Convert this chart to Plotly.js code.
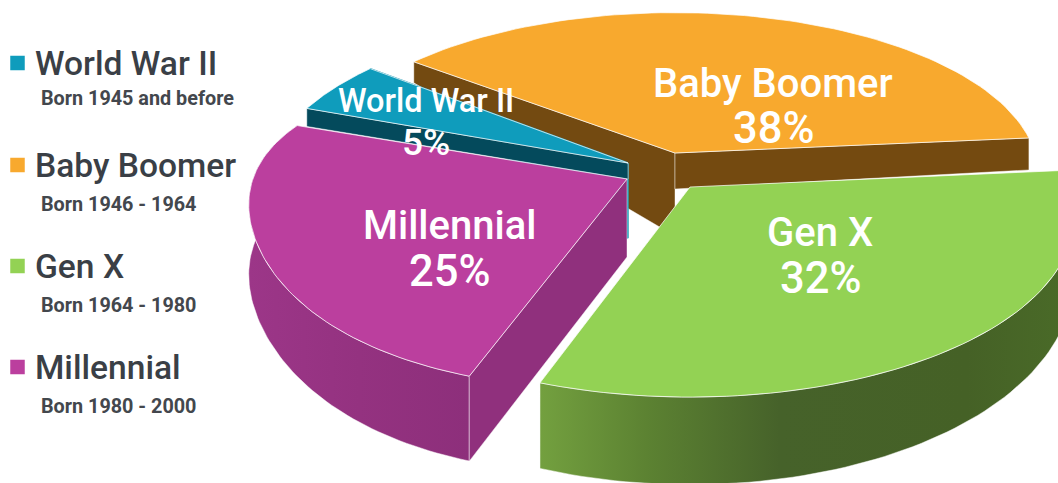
<!DOCTYPE html>
<html><head><meta charset="utf-8">
<script src="https://cdn.plot.ly/plotly-3.0.1.min.js"></script>
<style>html,body{margin:0;padding:0;background:#fff;overflow:hidden}#c{width:1058px;height:483px}</style>
</head><body><div id="c"></div>
<script>
// ---- data ----
const categories = ["World War II", "Baby Boomer", "Gen X", "Millennial"];
const shares = [5, 38, 32, 25];
const birthYears = ["Born 1945 and before", "Born 1946 - 1964", "Born 1964 - 1980", "Born 1980 - 2000"];

// ---- style ----
const topColors = ["#0F9CBC", "#F8A92E", "#93D254", "#BB3F9E"];
const FONT = "Roboto, sans-serif";

// ---- 3D projection of each slice: apex, radius, perspective, tilt, wall heights ----
const startAngle = 289.8;
const geom = [
  {ax:628, ay:163, R:360, pR:55, k:0.472, dent:0},
  {ax:675, ay:153, R:360, pR:48, k:0.45, dent:0},
  {ax:690, ay:187, R:377, pR:70, k:0.47, dent:0, outer:[0.48,-127]},
  {ax:627, ay:179, R:381, pR:90, k:0.45, dent:17, outer:[0.18,1]}
];
const rad = d => d*Math.PI/180;
let cum = startAngle;
const spans = shares.map(v => { const s=[cum, cum+v*3.6]; cum=s[1]; return s; });
geom.forEach((g,i)=>{ g.a=spans[i][0]; g.b=spans[i][1]; });
function radius(g, th){
  const u = Math.sin(Math.PI*(th-g.a)/(g.b-g.a));
  return g.R - g.pR*Math.cos(rad(th)) - g.dent*u*u;
}
function pt(g, th, t){
  const r = radius(g, th);
  return [g.ax + r*Math.sin(rad(th)), g.ay - g.k*r*Math.cos(rad(th)) + (t||0)];
}
function arc(g, a, b, tf){
  const o = [];
  for(let i=0;i<=80;i++){ const th=a+(b-a)*i/80; o.push(pt(g,th,tf?tf(th):0)); }
  return o;
}
function poly(points, color, name, extra){
  const p = points.concat([points[0]]);
  return Object.assign({
    type:"scatter", mode:"lines", x:p.map(q=>q[0]), y:p.map(q=>q[1]),
    fill:"toself", fillcolor:color, line:{color:"rgba(255,255,255,0.7)", width:1, shape:"linear"},
    hoverinfo:"skip", showlegend:false, name:name
  }, extra||{});
}
function sideWall(g, th, tApex, tCorner, color){
  return poly([[g.ax,g.ay],[g.ax,g.ay+tApex],pt(g,th,tCorner),pt(g,th,0)], color, "wall",
    {line:{color:"rgba(255,255,255,0.55)",width:0.8}});
}
function outerWall(g, a, b, grad){
  const tf = th => g.outer[0]*radius(g,th)+g.outer[1];
  const pts = arc(g,a,b).concat(arc(g,b,a,tf));
  return poly(pts, grad[0][1], "outer", {line:{color:"rgba(255,255,255,0.6)",width:0.8},
    fillgradient:{type:"horizontal", colorscale:grad}});
}
function topFace(i){
  const g=geom[i], s=spans[i];
  return poly([[g.ax,g.ay]].concat(arc(g,s[0],s[1])), topColors[i], categories[i]);
}

const [gW,gB,gG,gM] = geom, [sW,sB,sG,sM] = spans;
const traces = [
  // Baby Boomer (rear)
  sideWall(gB, sB[0], 83, 21, "#734A11"),
  sideWall(gB, sB[1], 36, 32, "#744A10"),
  topFace(1),
  // World War II
  Object.assign(sideWall(gW, sW[1], 75, 0, "#0F9CBC"), {line:{color:"#2B9FB8",width:1.5}}),
  sideWall(gW, sW[0], 16, 18, "#044A5C"),
  topFace(0),
  // Gen X
  outerWall(gG, sG[0], sG[1], [[0,"#73A03F"],[0.2,"#5C8232"],[0.45,"#46622A"],[0.8,"#456126"],[1,"#4A6B28"]]),
  topFace(2),
  // Millennial
  outerWall(gM, sM[0], sM[1], [[0,"#9C3688"],[0.5,"#943280"],[1,"#8D2F7B"]]),
  sideWall(gM, sM[0], 78, 85, "#90307D"),
  topFace(3),
  // legend swatches
  {type:"scatter", mode:"markers", x:categories.map(()=>17.5), y:[63,165,266,367],
   marker:{symbol:"square", size:14.5, color:topColors, line:{width:0}}, hoverinfo:"skip", showlegend:false}
];

const legendHeadY=[63,165,266,367], legendSubY=[98,204,305,406];
const labelPos=[[426,101,41,32.5,37],[773,83,45,40,43.5],[820,232,46,40,43.5],[449,225,46,40,43.5]];
const annotations=[];
categories.forEach((c,i)=>{
  annotations.push({x:33,y:legendHeadY[i],text:c,xanchor:"left",yanchor:"middle",showarrow:false,
    font:{family:FONT,size:33.6,color:"#3A3F46",weight:500}});
  annotations.push({x:39,y:legendSubY[i],text:birthYears[i],xanchor:"left",yanchor:"middle",showarrow:false,
    font:{family:FONT,size:19.8,color:"#43474D",weight:700}});
  const p=labelPos[i];
  annotations.push({x:p[0],y:p[1],text:c,xanchor:"center",yanchor:"middle",showarrow:false,
    font:{family:FONT,size:p[3],color:"#fff",weight:500}});
  annotations.push({x:p[0],y:p[1]+p[2],text:shares[i]+"%",xanchor:"center",yanchor:"middle",showarrow:false,
    font:{family:FONT,size:p[4],color:"#fff",weight:500}});
});

Plotly.newPlot("c", traces, {
  width:1058, height:483, margin:{l:0,r:0,t:0,b:0},
  paper_bgcolor:"#fff", plot_bgcolor:"#fff", showlegend:false,
  xaxis:{range:[0,1058],visible:false,fixedrange:true},
  yaxis:{range:[483,0],visible:false,fixedrange:true},
  annotations
},{displayModeBar:false,staticPlot:true});
</script></body></html>
